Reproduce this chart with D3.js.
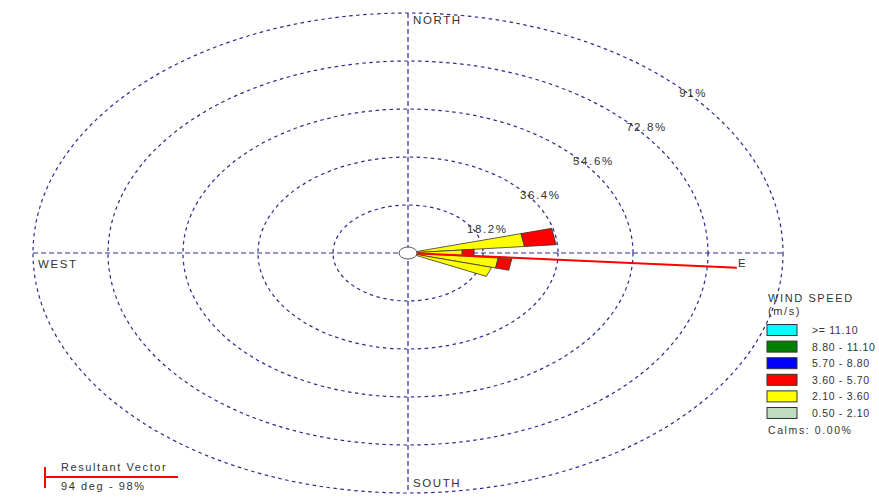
<!DOCTYPE html>
<html>
<head>
<meta charset="utf-8">
<script src="https://cdn.jsdelivr.net/npm/d3@7"></script>
<style>
  body { margin: 0; background: #fff; }
  svg text { font-family: "Liberation Sans", Arial, sans-serif; fill: #333; letter-spacing: 1.6px; }
  svg text.lt { letter-spacing: 0.7px; }
</style>
</head>
<body>
<div id="chart"></div>
<script>
// wind rose data (percent of time), one entry per 10 deg sector that has wind
const directions = [80, 90, 100, 110];
const speedBands = ["0.50 - 2.10", "2.10 - 3.60", "3.60 - 5.70", "5.70 - 8.80", "8.80 - 11.10", ">= 11.10"];
const bandColors = ["#c0dcc0", "#ffff00", "#ff0000", "#0000ff", "#008000", "#00ffff"];
const band1 = [0, 0, 0, 0];
const band2 = [28.4, 13.2, 22.0, 21.0];
const band3 = [7.7, 2.9, 3.3, 0];
const band4 = [0, 0, 0, 0];
const band5 = [0, 0, 0, 0];
const band6 = [0, 0, 0, 0];
const ringValues = [18.2, 36.4, 54.6, 72.8, 91];
const ringLabels = ["18.2%", "36.4%", "54.6%", "72.8%", "91%"];
const resultDir = 94;
const resultPct = 98;
const resultDrawn = 80; // length the vector is drawn at, on the % scale
const calms = "0.00%";

const width = 879, height = 501;
const cx = 408, cy = 253;

const svg = d3.select("#chart").append("svg")
  .attr("width", width).attr("height", height);

// the rose is stretched: horizontal and vertical scales differ
const rx = d3.scaleLinear().domain([0, 91]).range([0, 375]);
const ry = d3.scaleLinear().domain([0, 91]).range([0, 240]);

function pt(r, deg) {
  const a = deg * Math.PI / 180;
  return [cx + rx(r) * Math.sin(a), cy - ry(r) * Math.cos(a)];
}

const grid = "#2b2b8c";

// axes
svg.append("line").attr("x1", cx).attr("x2", cx).attr("y1", cy - ry(91)).attr("y2", cy + ry(91))
  .attr("stroke", grid).attr("stroke-width", 1.2).attr("stroke-dasharray", "5,3");
svg.append("line").attr("x1", cx - rx(91)).attr("x2", cx + rx(91)).attr("y1", cy).attr("y2", cy)
  .attr("stroke", grid).attr("stroke-width", 1.2).attr("stroke-dasharray", "5,3");

// rings
svg.selectAll(".ring").data(ringValues).join("ellipse")
  .attr("class", "ring")
  .attr("cx", cx).attr("cy", cy)
  .attr("rx", d => rx(d)).attr("ry", d => ry(d))
  .attr("fill", "none").attr("stroke", grid).attr("stroke-width", 1.2)
  .attr("stroke-dasharray", "3.5,3.5");

svg.selectAll(".ringlabel").data(ringValues).join("text")
  .attr("class", "ringlabel")
  .attr("x", d => pt(d, 45)[0] + 6)
  .attr("y", d => pt(d, 45)[1] + 14)
  .attr("font-size", 11.5)
  .text((d, i) => ringLabels[i]);

// compass labels
svg.append("text").attr("x", 413).attr("y", 24).attr("font-size", 11.5).text("NORTH");
svg.append("text").attr("x", 413).attr("y", 487).attr("font-size", 11.5).text("SOUTH");
svg.append("text").attr("x", 38).attr("y", 268).attr("font-size", 11.5).text("WEST");
svg.append("text").attr("x", 738).attr("y", 267).attr("font-size", 11.5).text("E");

// petals, stacked by speed band
const bands = [band1, band2, band3, band4, band5, band6];
const petals = [];
directions.forEach((dir, i) => {
  let r0 = 0;
  bands.forEach((b, j) => {
    const v = b[i];
    if (v > 0) {
      petals.push({ dir, r0, r1: r0 + v, color: bandColors[j] });
      r0 += v;
    }
  });
});

svg.selectAll(".petal").data(petals).join("polygon")
  .attr("class", "petal")
  .attr("points", d => [pt(d.r0, d.dir - 5), pt(d.r1, d.dir - 5), pt(d.r1, d.dir + 5), pt(d.r0, d.dir + 5)]
    .map(p => p.join(",")).join(" "))
  .attr("fill", d => d.color)
  .attr("stroke", "#333").attr("stroke-width", 0.8);

// resultant vector
const end = pt(resultDrawn, resultDir);
svg.append("line").attr("x1", cx).attr("y1", cy).attr("x2", end[0]).attr("y2", end[1])
  .attr("stroke", "#ff0000").attr("stroke-width", 2);

// calm circle
svg.append("ellipse").attr("cx", cx).attr("cy", cy).attr("rx", 9).attr("ry", 6)
  .attr("fill", "#fff").attr("stroke", "#555").attr("stroke-width", 1);

// legend
const lg = svg.append("g");
lg.append("text").attr("x", 768).attr("y", 302).attr("font-size", 11).text("WIND SPEED");
lg.append("text").attr("x", 768).attr("y", 315).attr("font-size", 11).text("(m/s)");
const legendRows = speedBands.slice().reverse();
const legendCols = bandColors.slice().reverse();
const ly = d3.scaleLinear().domain([0, 5]).range([330, 413]);
lg.selectAll("rect").data(legendRows).join("rect")
  .attr("x", 767).attr("y", (d, i) => ly(i) - 5.5)
  .attr("width", 30).attr("height", 11)
  .attr("fill", (d, i) => legendCols[i])
  .attr("stroke", "#333").attr("stroke-width", 1);
lg.selectAll(".lt").data(legendRows).join("text")
  .attr("class", "lt")
  .attr("x", 812).attr("y", (d, i) => ly(i) + 4)
  .attr("font-size", 10.5)
  .text(d => d);
lg.append("text").attr("x", 768).attr("y", 434).attr("font-size", 10.5).text("Calms: " + calms);

// resultant vector key
svg.append("line").attr("x1", 45).attr("x2", 178).attr("y1", 477).attr("y2", 477)
  .attr("stroke", "#ff0000").attr("stroke-width", 2);
svg.append("line").attr("x1", 45).attr("x2", 45).attr("y1", 467).attr("y2", 488)
  .attr("stroke", "#ff0000").attr("stroke-width", 2);
svg.append("text").attr("x", 61).attr("y", 471).attr("font-size", 11).text("Resultant Vector");
svg.append("text").attr("x", 61).attr("y", 490).attr("font-size", 11)
  .text(resultDir + " deg - " + resultPct + "%");
</script>
</body>
</html>
